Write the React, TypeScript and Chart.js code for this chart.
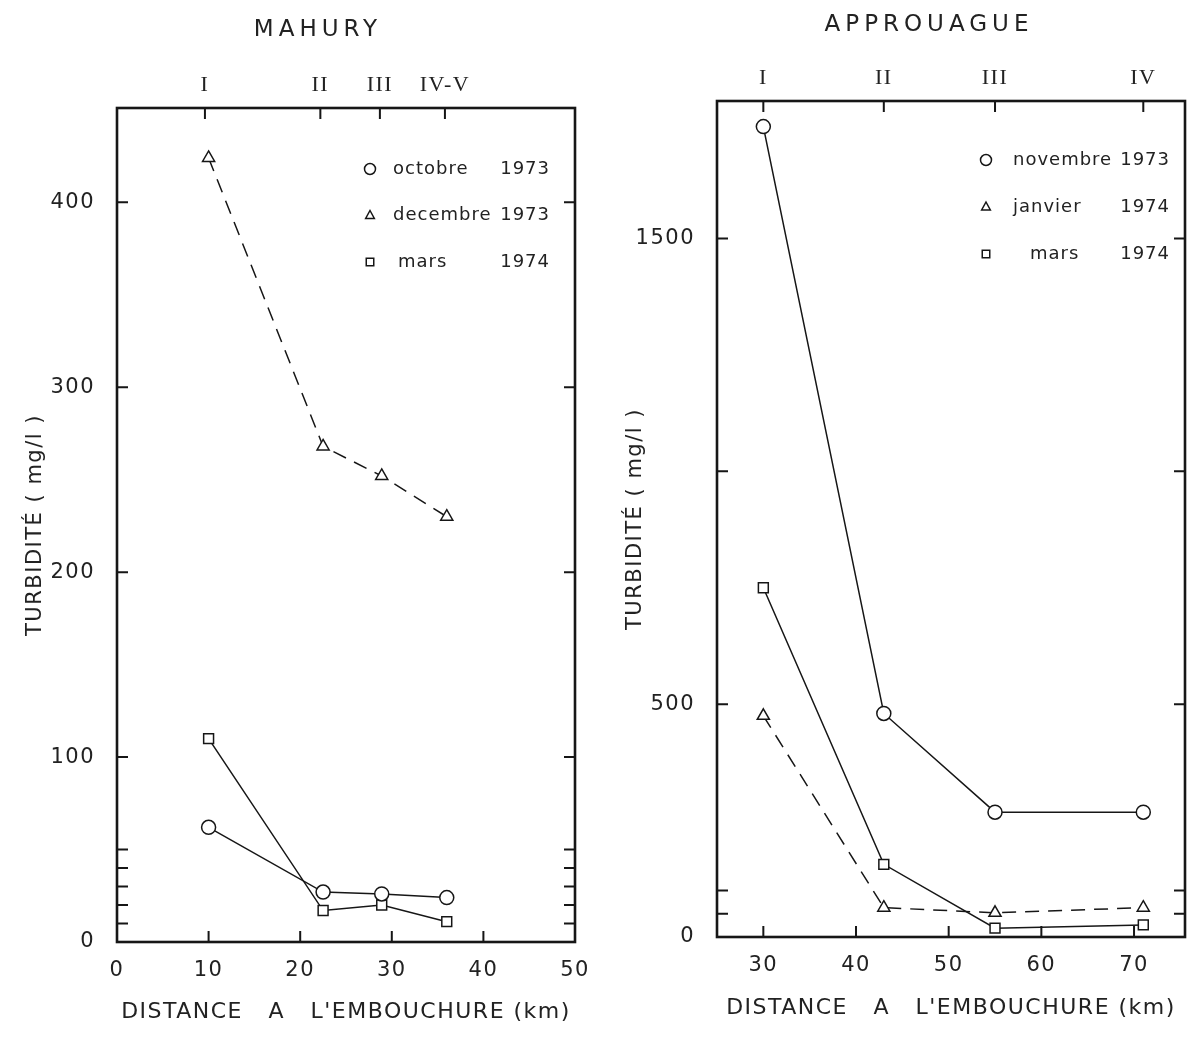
import React, { useEffect, useRef } from "react";
import { Chart, registerables } from "chart.js";

Chart.register(...registerables);

// ---------------- MAHURY ----------------
const mahuryTitle = "MAHURY";
const mahuryStationLabels = ["I", "II", "III", "IV-V"];
const mahuryStationKm = [9.6, 22.2, 28.7, 35.8];
const mahuryKm = [10, 22.5, 28.9, 36];
const mahuryOctobre1973 = [62, 27, 26, 24];
const mahuryDecembre1973 = [424, 268, 252, 230];
const mahuryMars1974 = [110, 17, 20, 11];
const mahuryXTicks = [0, 10, 20, 30, 40, 50];
const mahuryYTicks = [0, 100, 200, 300, 400];
const mahuryYTickLabels = ["0", "100", "200", "300", "400"];
const mahuryYMinor = [10, 20, 30, 40, 50];

// ---------------- APPROUAGUE ----------------
const approuagueTitle = "APPROUAGUE";
const approuagueStationLabels = ["I", "II", "III", "IV"];
const approuagueStationKm = [30, 43, 55, 71];
const approuagueKm = [30, 43, 55, 71];
const approuagueNovembre1973 = [1740, 480, 268, 268];
const approuagueJanvier1974 = [475, 63, 52, 63];
const approuagueMars1974 = [750, 156, 19, 26];
const approuagueXTicks = [30, 40, 50, 60, 70];
const approuagueYTicks = [0, 500, 1000, 1500];
const approuagueYTickLabels = ["0", "500", "", "1500"];
const approuagueYMinor = [50, 100];

const yAxisTitle = "TURBIDITÉ ( mg/l )";
const xAxisTitle = "DISTANCE   A   L'EMBOUCHURE (km)";

const INK = "#161616";
const TEXT = "#222222";
const SANS = '"DejaVu Sans", "Liberation Sans", sans-serif';
const SERIF = '"Liberation Serif", "DejaVu Serif", serif';

type Series = {
  label: string;
  values: number[];
  style: "circle" | "triangle" | "rect";
  radius: number;
  dashed: boolean;
};

type Panel = {
  title: string;
  titleX: number;
  titleY: number;
  km: number[];
  series: Series[];
  stationKm: number[];
  stationLabels: string[];
  xMin: number;
  xMax: number;
  xTicks: number[];
  yMax: number;
  yTicks: number[];
  yTickLabels: string[];
  yMinor: number[];
  topHeight: number;
  bottomHeight: number;
  padRight: number;
  xTitlePad: number;
  legend: { markerX: number; nameX: number; yearRight: number; top: number; gap: number; indent: number[] };
};

const mahuryPanel: Panel = {
  title: mahuryTitle,
  titleX: 318,
  titleY: 30,
  km: mahuryKm,
  series: [
    { label: "octobre 1973", values: mahuryOctobre1973, style: "circle", radius: 7, dashed: false },
    { label: "decembre 1973", values: mahuryDecembre1973, style: "triangle", radius: 7, dashed: true },
    { label: "mars 1974", values: mahuryMars1974, style: "rect", radius: 7, dashed: false },
  ],
  stationKm: mahuryStationKm,
  stationLabels: mahuryStationLabels,
  xMin: 0,
  xMax: 50,
  xTicks: mahuryXTicks,
  yMax: 451,
  yTicks: mahuryYTicks,
  yTickLabels: mahuryYTickLabels,
  yMinor: mahuryYMinor,
  topHeight: 108,
  bottomHeight: 95,
  padRight: 25,
  xTitlePad: 12,
  legend: { markerX: 205, nameX: 182, yearRight: 25, top: 61, gap: 46.5, indent: [0, 0, 5] },
};

const approuaguePanel: Panel = {
  title: approuagueTitle,
  titleX: 329,
  titleY: 25,
  km: approuagueKm,
  series: [
    { label: "novembre 1973", values: approuagueNovembre1973, style: "circle", radius: 7, dashed: false },
    { label: "janvier 1974", values: approuagueJanvier1974, style: "triangle", radius: 7, dashed: true },
    { label: "mars 1974", values: approuagueMars1974, style: "rect", radius: 7, dashed: false },
  ],
  stationKm: approuagueStationKm,
  stationLabels: approuagueStationLabels,
  xMin: 25,
  xMax: 75.5,
  xTicks: approuagueXTicks,
  yMax: 1795,
  yTicks: approuagueYTicks,
  yTickLabels: approuagueYTickLabels,
  yMinor: approuagueYMinor,
  topHeight: 101,
  bottomHeight: 100,
  padRight: 13,
  xTitlePad: 16,
  legend: { markerX: 199, nameX: 172, yearRight: 15, top: 59, gap: 47, indent: [0, 0, 17] },
};

function drawMarker(ctx: CanvasRenderingContext2D, style: string, x: number, y: number, r: number) {
  ctx.beginPath();
  if (style === "circle") {
    ctx.arc(x, y, r, 0, Math.PI * 2);
  } else if (style === "triangle") {
    ctx.moveTo(x, y - r);
    ctx.lineTo(x + r * 0.87, y + r * 0.6);
    ctx.lineTo(x - r * 0.87, y + r * 0.6);
    ctx.closePath();
  } else {
    ctx.rect(x - r * 0.75, y - r * 0.75, r * 1.5, r * 1.5);
  }
  ctx.fillStyle = "#fff";
  ctx.fill();
  ctx.stroke();
}

function buildConfig(p: Panel): any {
  const framePlugin = {
    id: "frameTicks",
    beforeDraw(chart: any) {
      chart.ctx.letterSpacing = "1.5px";
    },
    afterDraw(chart: any) {
      const { ctx, chartArea: a, scales } = chart;
      const x = scales.x;
      const y = scales.y;
      ctx.save();
      ctx.strokeStyle = INK;
      ctx.lineWidth = 2.6;
      ctx.strokeRect(a.left, a.top, a.right - a.left, a.bottom - a.top);
      ctx.lineWidth = 2;
      ctx.beginPath();
      const L = 11;
      [...p.yTicks, ...p.yMinor].forEach((v) => {
        if (v <= 0 || v >= p.yMax) return;
        const py = y.getPixelForValue(v);
        ctx.moveTo(a.left, py);
        ctx.lineTo(a.left + L, py);
        ctx.moveTo(a.right, py);
        ctx.lineTo(a.right - L, py);
      });
      p.xTicks.forEach((v) => {
        if (v <= p.xMin || v >= p.xMax) return;
        const px = x.getPixelForValue(v);
        ctx.moveTo(px, a.bottom);
        ctx.lineTo(px, a.bottom - L);
      });
      p.stationKm.forEach((v) => {
        const px = x.getPixelForValue(v);
        ctx.moveTo(px, a.top);
        ctx.lineTo(px, a.top + L);
      });
      ctx.stroke();

      // panel title
      ctx.fillStyle = TEXT;
      ctx.letterSpacing = "5px";
      ctx.font = `23px ${SANS}`;
      ctx.textAlign = "center";
      ctx.textBaseline = "middle";
      ctx.fillText(p.title, p.titleX, p.titleY);

      // legend
      const lg = p.legend;
      ctx.letterSpacing = "1px";
      ctx.font = `18px ${SANS}`;
      ctx.textBaseline = "middle";
      ctx.strokeStyle = INK;
      ctx.lineWidth = 1.5;
      chart.data.datasets.forEach((ds: any, i: number) => {
        const yy = a.top + lg.top + i * lg.gap;
        const parts = String(ds.label).split(" ");
        const year = parts[parts.length - 1];
        const name = parts.slice(0, -1).join(" ");
        drawMarker(ctx, ds.pointStyle, a.right - lg.markerX, yy, ds.pointStyle === "circle" ? 5.5 : 5);
        ctx.fillStyle = TEXT;
        ctx.textAlign = "left";
        ctx.fillText(name, a.right - lg.nameX + lg.indent[i], yy);
        ctx.textAlign = "right";
        ctx.fillText(year, a.right - lg.yearRight, yy);
      });
      ctx.restore();
    },
  };

  const noSidePad = (s: any) => {
    s.paddingLeft = 0;
    s.paddingRight = 0;
  };

  return {
    type: "line",
    data: {
      datasets: p.series.map((s) => ({
        label: s.label,
        data: p.km.map((k, i) => ({ x: k, y: s.values[i] })),
        borderColor: INK,
        borderWidth: 1.5,
        borderDash: s.dashed ? [14, 9] : [],
        pointStyle: s.style,
        pointRadius: s.radius,
        pointBackgroundColor: "#ffffff",
        pointBorderColor: INK,
        pointBorderWidth: 1.5,
        tension: 0,
        fill: false,
      })),
    },
    options: {
      animation: false,
      responsive: false,
      maintainAspectRatio: false,
      layout: { padding: { left: 0, right: p.padRight, top: 0, bottom: 0 } },
      plugins: {
        legend: { display: false },
        tooltip: { enabled: false },
        title: { display: false },
      },
      scales: {
        x: {
          type: "linear",
          position: "bottom",
          min: p.xMin,
          max: p.xMax,
          afterBuildTicks: (s: any) => {
            s.ticks = p.xTicks.map((v) => ({ value: v }));
          },
          afterFit: (s: any) => {
            s.height = p.bottomHeight;
            noSidePad(s);
          },
          grid: { display: false, drawTicks: false },
          border: { display: false },
          ticks: {
            padding: 16,
            color: TEXT,
            font: { family: SANS, size: 21 },
            callback: (v: any) => String(v),
          },
          title: {
            display: true,
            text: xAxisTitle,
            color: TEXT,
            font: { family: SANS, size: 22 },
            padding: { top: 0, bottom: p.xTitlePad },
          },
        },
        top: {
          type: "linear",
          position: "top",
          min: p.xMin,
          max: p.xMax,
          afterBuildTicks: (s: any) => {
            s.ticks = p.stationKm.map((v) => ({ value: v }));
          },
          afterFit: (s: any) => {
            s.height = p.topHeight;
            noSidePad(s);
          },
          grid: { display: false, drawTicks: false },
          border: { display: false },
          ticks: {
            padding: 10,
            color: TEXT,
            font: { family: SERIF, size: 22 },
            callback: (_v: any, i: number) => p.stationLabels[i],
          },
        },
        y: {
          type: "linear",
          position: "left",
          min: 0,
          max: p.yMax,
          afterBuildTicks: (s: any) => {
            s.ticks = p.yTicks.map((v) => ({ value: v }));
          },
          afterFit: (s: any) => {
            s.width = 117;
            s.paddingTop = 0;
            s.paddingBottom = 0;
          },
          grid: { display: false, drawTicks: false },
          border: { display: false },
          ticks: {
            padding: 22,
            color: TEXT,
            font: { family: SANS, size: 21 },
            callback: (v: any) => {
              const idx = p.yTicks.indexOf(Number(v));
              return idx >= 0 ? p.yTickLabels[idx] : "";
            },
          },
          title: {
            display: true,
            text: yAxisTitle,
            color: TEXT,
            font: { family: SANS, size: 21 },
            padding: { top: 23, bottom: 0 },
          },
        },
      },
    },
    plugins: [framePlugin],
  };
}

function ChartPanel({ panel, width, height }: { panel: Panel; width: number; height: number }) {
  const ref = useRef<HTMLCanvasElement | null>(null);
  useEffect(() => {
    if (!ref.current) return;
    const chart = new Chart(ref.current, buildConfig(panel));
    return () => chart.destroy();
  }, [panel]);
  return <canvas ref={ref} width={width} height={height} style={{ display: "block", width, height }} />;
}

export default function App() {
  return (
    <div style={{ position: "absolute", left: 0, top: 0, width: 1198, height: 1037, background: "#ffffff", overflow: "hidden" }}>
      <div style={{ position: "absolute", left: 0, top: 0, width: 600, height: 1037 }}>
        <ChartPanel panel={mahuryPanel} width={600} height={1037} />
      </div>
      <div style={{ position: "absolute", left: 600, top: 0, width: 598, height: 1037 }}>
        <ChartPanel panel={approuaguePanel} width={598} height={1037} />
      </div>
    </div>
  );
}
